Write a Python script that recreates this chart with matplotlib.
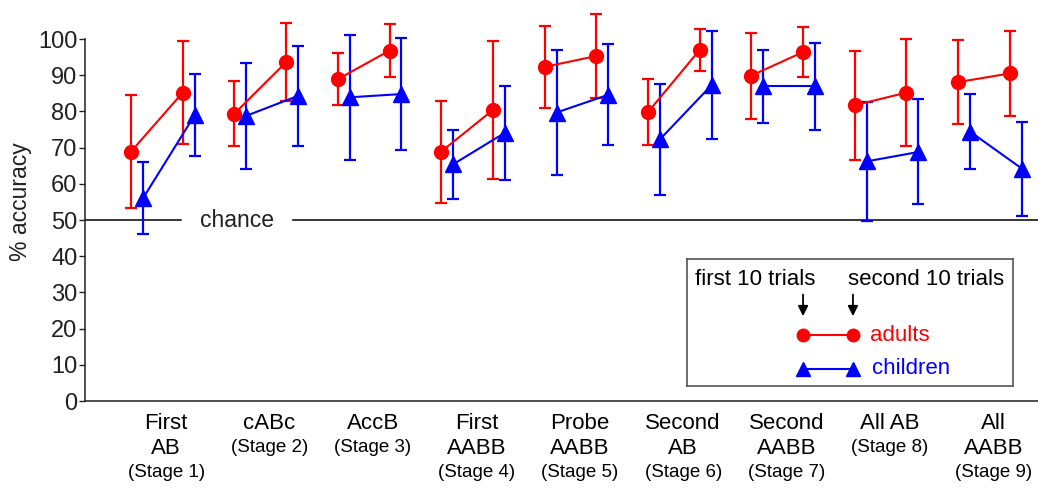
import matplotlib.pyplot as plt
import numpy as np

# font: narrow sans if available, else Arial-metric sans
plt.rcParams['font.family'] = ['Liberation Sans Narrow', 'Liberation Sans', 'DejaVu Sans']

# Data
stages = ['First\nAB', 'cABc', 'AccB', 'First\nAABB', 'Probe\nAABB',
          'Second\nAB', 'Second\nAABB', 'All AB', 'All\nAABB']
stage_nums = ['(Stage %d)' % i for i in range(1, 10)]

adults_first = [68.9, 79.4, 88.9, 68.9, 92.3, 79.8, 89.9, 81.7, 88.1]
adults_first_sd = [15.5, 8.9, 7.2, 14.1, 11.3, 9.1, 11.9, 15.1, 11.5]
adults_second = [85.2, 93.6, 96.8, 80.4, 95.3, 97.0, 96.4, 85.2, 90.5]
adults_second_sd = [14.3, 10.8, 7.3, 19.1, 11.5, 5.7, 6.8, 14.7, 11.7]

children_first = [56.0, 78.8, 83.9, 65.4, 79.7, 72.3, 86.9, 66.2, 74.4]
children_first_sd = [9.9, 14.6, 17.3, 9.6, 17.3, 15.4, 10.1, 16.5, 10.4]
children_second = [79.0, 84.3, 84.8, 74.1, 84.6, 87.3, 86.9, 68.8, 64.2]
children_second_sd = [11.2, 13.9, 15.4, 13.0, 13.9, 14.9, 11.9, 14.5, 13.0]

RED = '#ff0000'
BLUE = '#0000ff'
DARK = '#231f20'

fig = plt.figure(figsize=(10.38, 4.95), dpi=100)
ax = fig.add_axes([85 / 1038, 94 / 495, 953 / 1038, 383.7 / 495])

x = np.arange(len(stages))
step = 0.5      # first -> second 10 trials
shift = 0.116   # children offset

def draw(x0, first, first_sd, second, second_sd, color, marker, ms):
    for i in range(len(first)):
        xs = [x0[i], x0[i] + step]
        ys = [first[i], second[i]]
        es = [first_sd[i], second_sd[i]]
        ax.errorbar(xs, ys, yerr=es, color=color, marker=marker, ms=ms,
                    lw=1.5, elinewidth=1.6, capsize=4.2, capthick=1.6,
                    clip_on=False, zorder=3)

draw(x, adults_first, adults_first_sd, adults_second, adults_second_sd, RED, 'o', 10)
draw(x + shift, children_first, children_first_sd, children_second, children_second_sd,
     BLUE, '^', 11)

# chance line
ax.axhline(50, xmin=0, xmax=0.101, color='black', lw=1.1, zorder=1)
ax.axhline(50, xmin=0.218, xmax=1, color='black', lw=1.1, zorder=1)
ax.text(0.16, 50, 'chance', transform=ax.get_yaxis_transform(),
        ha='center', va='center', fontsize=16.5, color=DARK)

ax.set_xlim(-0.445, 8.772)
ax.set_ylim(0, 106)
ax.set_yticks(range(0, 101, 10))
ax.spines['left'].set_bounds(0, 100)
for s in ['top', 'right']:
    ax.spines[s].set_visible(False)
for s in ['left', 'bottom']:
    ax.spines[s].set_color(DARK)
    ax.spines[s].set_linewidth(1.1)
ax.tick_params(axis='y', length=4.5, width=1, color=DARK, labelsize=17,
               labelcolor=DARK, pad=1)
ax.set_xticks([])
ax.set_ylabel('% accuracy', fontsize=16.5, color=DARK)
ax.yaxis.set_label_coords(-0.056, 0.52)

# x labels: stage name + stage number below
tick_x = x + 0.34
for i in range(len(stages)):
    t = ax.text(tick_x[i], -0.03, stages[i], transform=ax.get_xaxis_transform(),
                ha='center', va='top', fontsize=16, linespacing=1.25, color='black')
    ax.annotate(stage_nums[i], xy=(0.5, 0), xycoords=t, xytext=(0, -4),
                textcoords='offset points', ha='center', va='top',
                fontsize=13.5, color='black')

# custom legend box
lg = fig.add_axes([687 / 1038, 109 / 495, 326 / 1038, 127 / 495])
lg.set_xlim(0, 1)
lg.set_ylim(0, 1)
lg.set_xticks([])
lg.set_yticks([])
for s in lg.spines.values():
    s.set_color('#555555')
    s.set_linewidth(1.2)
lg.text(0.025, 0.835, 'first 10 trials', fontsize=16, va='center', ha='left')
lg.text(0.494, 0.835, 'second 10 trials', fontsize=16, va='center', ha='left')
for xa in [0.356, 0.509]:
    lg.annotate('', xy=(xa, 0.55), xytext=(xa, 0.72),
                arrowprops=dict(arrowstyle='-|>', color='black', lw=1.3,
                                mutation_scale=15, shrinkA=0, shrinkB=0))
lg.plot([0.356, 0.509], [0.40, 0.40], color=RED, marker='o', ms=9, lw=1.5)
lg.plot([0.356, 0.509], [0.134, 0.134], color=BLUE, marker='^', ms=10, lw=1.5)
lg.text(0.562, 0.40, 'adults', color=RED, fontsize=16, va='center', ha='left')
lg.text(0.568, 0.134, 'children', color=BLUE, fontsize=16, va='center', ha='left')

fig.savefig('out.png', dpi=100)
